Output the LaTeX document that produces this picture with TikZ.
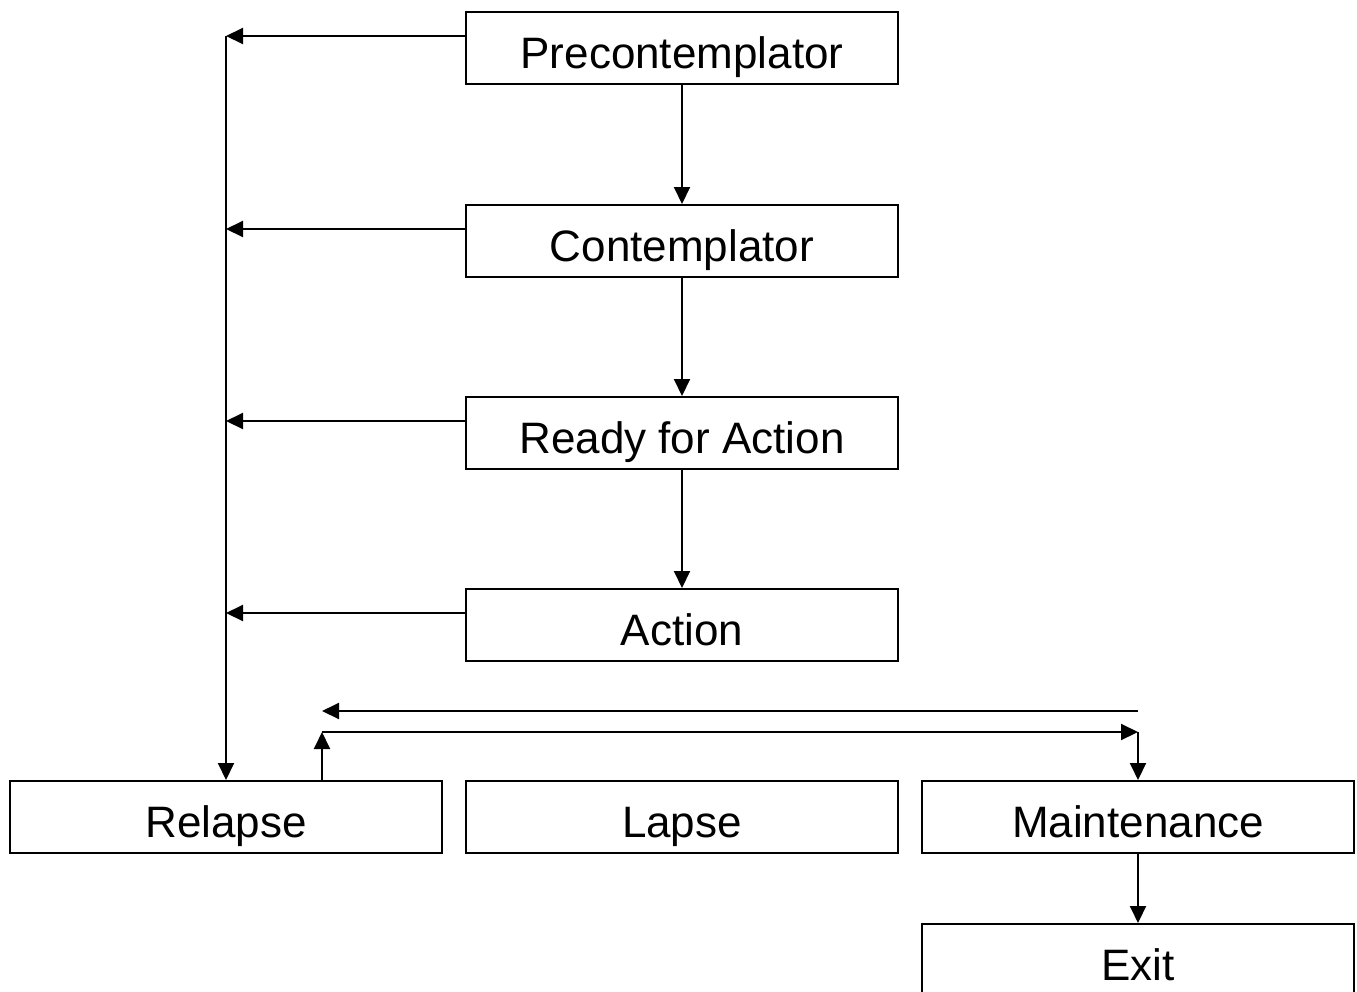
\documentclass[tikz,border=0pt]{standalone}
\usepackage{fontspec}
\setmainfont{Liberation Sans}
\usetikzlibrary{arrows.meta}
\tikzset{
  stage/.style={draw, line width=2pt, minimum width=432pt, minimum height=72pt,
    inner sep=0pt, text height=40pt, text depth=0pt, font=\fontsize{44}{52}\selectfont},
  link/.style={line width=2pt, -{Triangle[length=17pt,width=16pt]}},
}
\begin{document}
\begin{tikzpicture}[x=1pt,y=-1pt]
      \useasboundingbox (0,0) rectangle (1357,991);
      \node[stage] (pre) at (682,48) {Precontemplator};
      \node[stage] (con) at (682,241) {Contemplator};
      \node[stage] (ready) at (682,433) {Ready for Action};
      \node[stage] (act) at (682,625) {Action};
      \node[stage] (rel) at (226,817) {Relapse};
      \node[stage] (lapse) at (682,817) {Lapse};
      \node[stage] (maint) at (1138,817) {Maintenance};
      \node[stage] (exit) at (1138,960) {Exit};
      \foreach \s in {pre,con,ready,act} {
        \coordinate (\s-out) at ([yshift=12pt]\s.west);
        \coordinate (\s-in) at (rel.north |- \s-out);
      }
      \coordinate (foot) at ([xshift=96pt]rel.north);
      \coordinate (up) at ([yshift=48pt]foot);
      \coordinate (over) at (maint.north |- up);
      \coordinate (back) at ([yshift=21pt]over);
      \coordinate (backend) at (up |- back);
      \begin{scope}[link]
        \draw (pre) to (con);
        \draw (con) to (ready);
        \draw (ready) to (act);
        \draw (maint) to (exit);
        \draw (pre-out) to (pre-in);
        \draw (con-out) to (con-in);
        \draw (ready-out) to (ready-in);
        \draw (act-out) to (act-in);
        \draw (pre-in) to (rel.north);
        \draw (foot) to (up);
        \draw (up) to (over);
        \draw (over) to (maint.north);
        \draw (back) to (backend);
      \end{scope}
    \end{tikzpicture}
\end{document}
